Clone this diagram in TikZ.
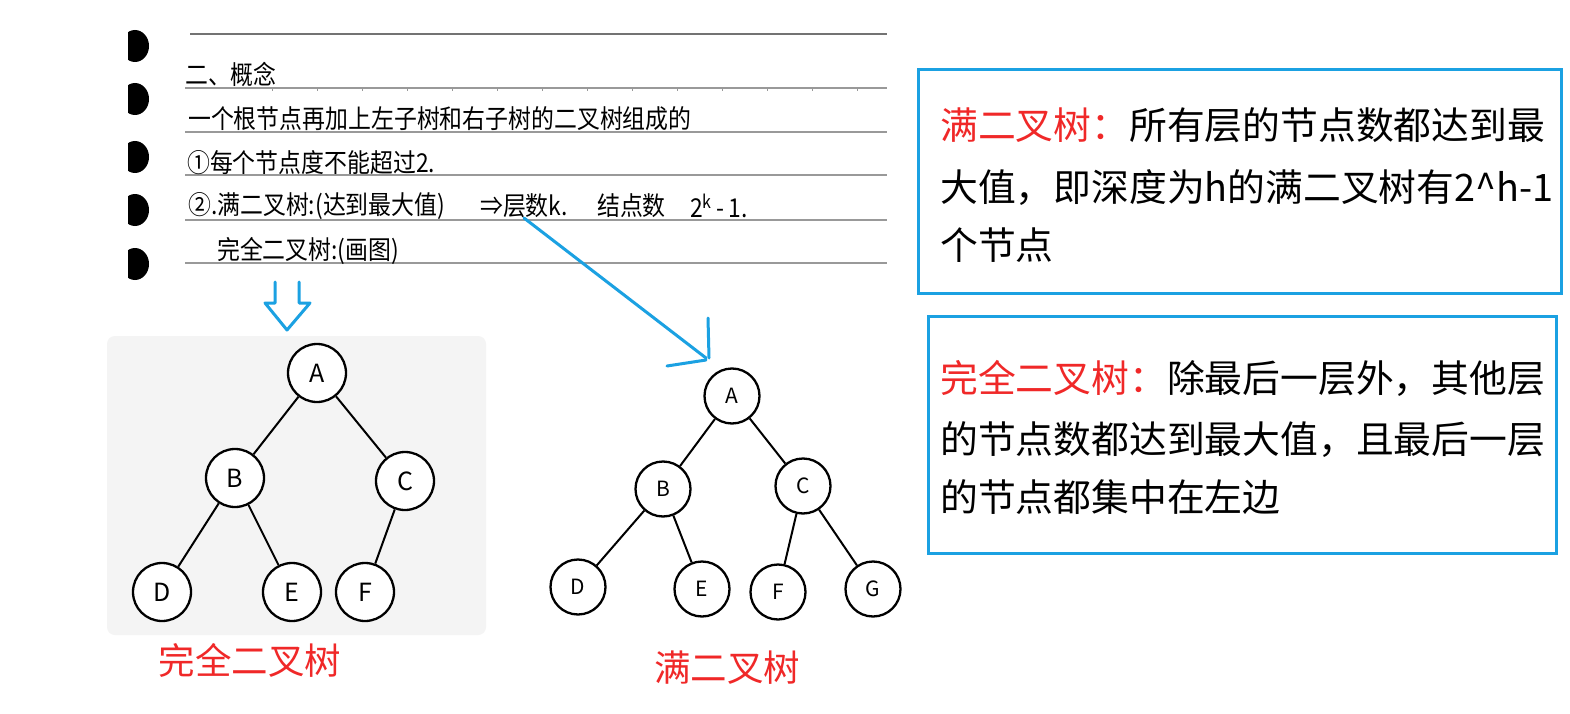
\documentclass[tikz,border=0pt]{standalone}
\usepackage{fontspec}
\setmainfont{Noto Sans CJK SC}
\newfontfamily\handfont[FakeStretch=0.88]{Noto Sans CJK SC}
\definecolor{myblue}{HTML}{1BA1E2}
\definecolor{myred}{HTML}{F02828}
\definecolor{bggray}{HTML}{F4F4F4}
\begin{document}
\begin{tikzpicture}[x=1pt,y=-1pt,
  rule/.style={draw=black!40, line width=1.2pt},
  hole/.style={fill=black},
  tnode/.style={circle, draw=black, line width=2.3pt, minimum size=58pt, inner sep=0pt, fill=white, font=\fontsize{25}{25}\selectfont},
  fnode/.style={circle, draw=black, line width=2.3pt, minimum size=55pt, inner sep=0pt, fill=white, font=\fontsize{21}{21}\selectfont},
  edge/.style={line width=2pt},
  bluebox/.style={draw=myblue, line width=3pt},
  blueline/.style={draw=myblue, line width=3pt, line cap=round, line join=round},
  handtxt/.style={anchor=west, inner sep=0pt, text=black, font=\handfont\fontsize{26}{26}\selectfont},
  boxtxt/.style={anchor=west, inner sep=0pt, font=\fontsize{37.8}{37.8}\selectfont},
  lbl/.style={text=myred, inner sep=0pt, font=\fontsize{36.5}{36.5}\selectfont}
]
\useasboundingbox (0,0) rectangle (1570,714);
\fill[white] (0,0) rectangle (1570,714);

% notebook rules
\draw[rule, draw=black!55] (190,34) -- (887,34);
\foreach \yy in {88,132,175,220,263} {\draw[rule] (185,\yy) -- (887,\yy);}
\foreach \xx in {272,317,...,880} {\draw[black!40, line width=0.8pt] (\xx,88) -- (\xx,91);}
% binder holes
\begin{scope}
\clip (128,0) rectangle (200,300);
\foreach \yy in {46,99,157,210,264} {\fill[hole] (135,\yy) ellipse (14 and 16);}
\end{scope}

% handwritten notes
\node[handtxt] (n1) at (185,74) {二、概念};
\node[handtxt] (n2) at (188,119) {一个根节点再加上左子树和右子树的二叉树组成的};
\node[handtxt] (n3) at (187,163) {①每个节点度不能超过2.};
\node[handtxt] (n4a) at (188,206) {②.满二叉树:(达到最大值)};
\node[handtxt] (n4b) at (480,206) {⇒层数k.};
\node[handtxt] (n4c) at (597,206) {结点数};
\node[handtxt] (n4d) at (690,206) {2\textsuperscript{k}\,-\,1.};
\node[handtxt] (n5) at (217,251) {完全二叉树:(画图)};

% hollow down arrow
\draw[blueline] (275,282) -- (275,303) -- (265,303) -- (287,330) -- (310,303) -- (299,303) -- (299,282);

% complete binary tree
\fill[bggray, rounded corners=8pt] (107,336) rectangle (486,635);
\node[tnode] (cA) at (317,373) {A};
\node[tnode] (cB) at (235,478) {B};
\node[tnode] (cC) at (405,481) {C};
\node[tnode] (cD) at (162,592) {D};
\node[tnode] (cE) at (292,592) {E};
\node[tnode] (cF) at (365,592) {F};
\draw[edge] (cA) -- (cB);
\draw[edge] (cA) -- (cC);
\draw[edge] (cB) -- (cD);
\draw[edge] (cB) -- (cE);
\draw[edge] (cC) -- (cF);
\node[lbl] (clbl) at (250,660) {完全二叉树};

% full binary tree
\node[fnode] (fA) at (732,396) {A};
\node[fnode] (fB) at (663,489) {B};
\node[fnode] (fC) at (803,486) {C};
\node[fnode] (fD) at (578,587) {D};
\node[fnode] (fE) at (702,589) {E};
\node[fnode] (fF) at (778,592) {F};
\node[fnode] (fG) at (873,589) {G};
\draw[edge] (fA) -- (fB);
\draw[edge] (fA) -- (fC);
\draw[edge] (fB) -- (fD);
\draw[edge] (fB) -- (fE);
\draw[edge] (fC) -- (fF);
\draw[edge] (fC) -- (fG);
\node[lbl] (flbl) at (727,668) {满二叉树};

% hand-drawn arrow to full tree
\coordinate (aS) at (524,218);
\coordinate (aE) at (706,358);
\coordinate (h1) at (708,318);
\coordinate (h2) at (709,358);
\coordinate (h3) at (667,366);
\coordinate (h4) at (706,360);
\draw[blueline] (aS) -- (aE);
\draw[blueline] (h1) -- (h2);
\draw[blueline] (h3) -- (h4);

% definition boxes
\draw[bluebox] (918,70) rectangle (1561,293);
\node[boxtxt] (t1) at (940,125) {\textcolor{myred}{满二叉树：}所有层的节点数都达到最};
\node[boxtxt] (t2) at (940,188) {大值，即深度为h的满二叉树有2\^{}h-1};
\node[boxtxt] (t3) at (940,245) {个节点};

\draw[bluebox] (928,316) rectangle (1556,553);
\node[boxtxt] (b1) at (940,378) {\textcolor{myred}{完全二叉树：}除最后一层外，其他层};
\node[boxtxt] (b2) at (940,440) {的节点数都达到最大值，且最后一层};
\node[boxtxt] (b3) at (940,497) {的节点都集中在左边};
\end{tikzpicture}
\end{document}
